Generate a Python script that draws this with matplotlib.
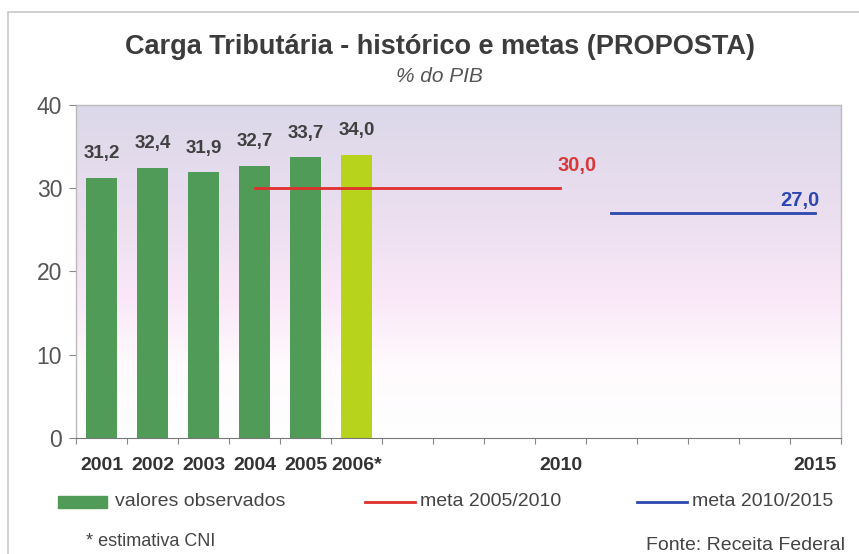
import numpy as np
import matplotlib.pyplot as plt
from matplotlib.colors import LinearSegmentedColormap
from matplotlib.patches import Rectangle
from matplotlib.lines import Line2D

# dados
anos = [str(a) for a in range(2001, 2016)]
rotulos_x = ["2001", "2002", "2003", "2004", "2005", "2006*", "", "", "",
             "2010", "", "", "", "", "2015"]
observados = [31.2, 32.4, 31.9, 32.7, 33.7, 34.0]
meta_2010 = 30.0
meta_2015 = 27.0
inicio_meta1, fim_meta1 = "2004", "2010"
inicio_meta2, fim_meta2 = "2011", "2015"

plt.rcParams['font.family'] = ['Liberation Sans', 'DejaVu Sans']

fig = plt.figure(figsize=(8.59, 5.54), dpi=100)
fig.patch.set_facecolor('white')
ax = fig.add_axes([0.0885, 0.2094, 0.8905, 0.6011])

# moldura externa
fig.patches.append(Rectangle((8 / 859, -0.1), 1.2, 1 - 12 / 554 + 0.1,
                             transform=fig.transFigure, fill=False,
                             edgecolor='#c8c8c8', linewidth=1.2))

x = np.arange(len(anos))

# fundo em degradê
cmap = LinearSegmentedColormap.from_list(
    'fundo', [(0.0, '#ffffff'), (0.22, '#fefafd'), (0.42, '#fae8f8'),
              (0.65, '#ecdff0'), (1.0, '#dbd8e9')])
grad = np.linspace(0, 1, 256).reshape(-1, 1)
ax.imshow(grad, cmap=cmap, aspect='auto', origin='lower',
          extent=(-0.5, len(anos) - 0.5, 0, 40), zorder=0)

cores = ['#4f9b57'] * 5 + ['#b7d31b']
ax.bar(x[:len(observados)], observados, width=0.6, color=cores, zorder=2)
for xi, v in zip(x, observados):
    ax.text(xi, v + 1.9, f"{v:.1f}".replace('.', ','), ha='center', va='bottom',
            fontsize=13.5, fontweight='bold', color='#404040', zorder=4)

i1, f1 = anos.index(inicio_meta1), anos.index(fim_meta1)
i2, f2 = anos.index(inicio_meta2), anos.index(fim_meta2)
ax.plot([i1, f1], [meta_2010, meta_2010], color='#e0302c', lw=2, zorder=3)
ax.plot([i2, f2], [meta_2015, meta_2015], color='#2c47b0', lw=2, zorder=3)
ax.text(f1 + 0.33, meta_2010 + 1.6, f"{meta_2010:.1f}".replace('.', ','),
        ha='center', va='bottom', fontsize=14.5, fontweight='bold', color='#d8383a')
ax.text(f2 - 0.3, meta_2015 + 0.4, f"{meta_2015:.1f}".replace('.', ','),
        ha='center', va='bottom', fontsize=14.5, fontweight='bold', color='#2c47b0')

ax.set_xlim(-0.5, len(anos) - 0.5)
ax.set_ylim(0, 40)
ax.set_yticks([0, 10, 20, 30, 40])
ax.tick_params(axis='y', labelsize=16.5, labelcolor='#555555', color='#888888',
               length=5, pad=5)
ax.set_xticks(np.arange(len(anos) + 1) - 0.5, minor=False)
ax.set_xticklabels([])
ax.set_xticks(x, minor=True)
ax.set_xticklabels(rotulos_x, minor=True)
ax.tick_params(axis='x', which='major', color='#888888', length=4)
ax.tick_params(axis='x', which='minor', length=0, pad=14, labelsize=14,
               labelcolor='#333333')
for lbl in ax.get_xticklabels(minor=True):
    lbl.set_fontweight('bold')
for s in ['left', 'right', 'top']:
    ax.spines[s].set_color('#bbbbbb')
    ax.spines[s].set_linewidth(1)
ax.spines['bottom'].set_color('#777777')

# títulos
fig.text(0.512, 1 - 47 / 554, "Carga Tributária - histórico e metas (PROPOSTA)",
         ha='center', va='center', fontsize=19.5, fontweight='bold', color='#3c3c3c')
fig.text(0.512, 1 - 76 / 554, "% do PIB", ha='center', va='center',
         fontsize=15, style='italic', color='#555555')

# legenda
y_leg = 1 - 502 / 554
fig.patches.append(Rectangle((58 / 859, y_leg - 6 / 554), 49 / 859, 12 / 554,
                             transform=fig.transFigure, color='#4f9b57'))
fig.text(115 / 859, y_leg, "valores observados", ha='left', va='center',
         fontsize=14, color='#444444')
fig.lines.append(Line2D([365 / 859, 415 / 859], [y_leg, y_leg],
                        transform=fig.transFigure, color='#e0302c', lw=2))
fig.text(420 / 859, y_leg, "meta 2005/2010", ha='left', va='center',
         fontsize=14, color='#444444')
fig.lines.append(Line2D([637 / 859, 687 / 859], [y_leg, y_leg],
                        transform=fig.transFigure, color='#2c47b0', lw=2))
fig.text(692 / 859, y_leg, "meta 2010/2015", ha='left', va='center',
         fontsize=14, color='#444444')

fig.text(86 / 859, 1 - 542 / 554, "* estimativa CNI", ha='left', va='center',
         fontsize=13, color='#444444')
fig.text(845 / 859, 1 - 545 / 554, "Fonte: Receita Federal", ha='right',
         va='center', fontsize=14, color='#444444')

fig.savefig('out.png', dpi=100)
